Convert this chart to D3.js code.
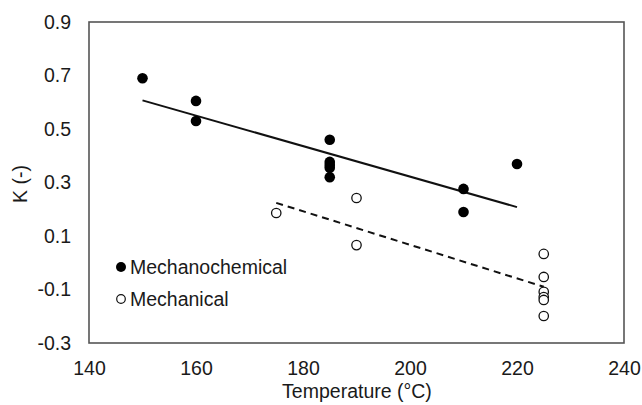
<!DOCTYPE html>
<html><head><meta charset="utf-8">
<script src="https://cdn.jsdelivr.net/npm/d3@7"></script>
<style>body{margin:0;background:#fff}svg{display:block}text{font-family:"Liberation Sans",Arial,sans-serif;fill:#1a1a1a}</style>
</head><body><svg id="c" width="642" height="405"></svg>
<script>
const xTicks = [140,160,180,200,220,240];
const yTicks = [-0.3,-0.1,0.1,0.3,0.5,0.7,0.9];
const mechanochemT = [150,160,160,185,185,185,185,185,210,210,220];
const mechanochemK = [0.69,0.605,0.53,0.46,0.377,0.365,0.355,0.32,0.276,0.19,0.369];
const mechanicalT = [175,190,190,225,225,225,225,225,225];
const mechanicalK = [0.186,0.242,0.066,0.033,-0.053,-0.109,-0.128,-0.139,-0.199];
const trendChemT = [150,220], trendChemK = [0.607,0.208];
const trendMechT = [175,225], trendMechK = [0.224,-0.09];
const legendLabels = ["Mechanochemical","Mechanical"];

const FS = 19.5;
const svg = d3.select("#c");
const L=89,R=624,T=22,B=343;
const x = d3.scaleLinear().domain([140,240]).range([L,R]);
const y = d3.scaleLinear().domain([-0.3,0.9]).range([B,T]);

svg.append("rect").attr("x",L).attr("y",T).attr("width",R-L).attr("height",B-T)
  .attr("fill","none").attr("stroke","#555").attr("stroke-width",1.6);

const xa = svg.append("g").attr("transform",`translate(0,${B})`)
  .call(d3.axisBottom(x).tickValues(xTicks).tickSize(0).tickPadding(18).tickFormat(d3.format("d")));
xa.select(".domain").remove();
xa.selectAll("text").attr("font-size",FS).attr("fill","#1a1a1a");
const yf = d3.format(".1f");
const ya = svg.append("g").attr("transform",`translate(${L},0)`)
  .call(d3.axisLeft(y).tickValues(yTicks).tickSize(0).tickPadding(18).tickFormat(d => yf(d).replace("\u2212","-")));
ya.select(".domain").remove();
ya.selectAll("text").attr("font-size",FS).attr("fill","#1a1a1a");

svg.append("text").attr("x",357).attr("y",398).attr("text-anchor","middle").attr("font-size",FS).text("Temperature (°C)");
svg.append("text").attr("transform","translate(27,184) rotate(-90)").attr("text-anchor","middle").attr("font-size",FS).text("K (-)");

const line = d3.line().x(d=>x(d[0])).y(d=>y(d[1]));
svg.append("path").attr("d",line(d3.zip(trendChemT,trendChemK))).attr("stroke","#111").attr("stroke-width",2).attr("fill","none");
svg.append("path").attr("d",line(d3.zip(trendMechT,trendMechK))).attr("stroke","#111").attr("stroke-width",2).attr("stroke-dasharray","7,5").attr("fill","none");

svg.selectAll("circle.chem").data(d3.zip(mechanochemT,mechanochemK)).join("circle").attr("class","chem")
  .attr("cx",d=>x(d[0])).attr("cy",d=>y(d[1])).attr("r",5.3).attr("fill","#000");
svg.selectAll("circle.mech").data(d3.zip(mechanicalT,mechanicalK)).join("circle").attr("class","mech")
  .attr("cx",d=>x(d[0])).attr("cy",d=>y(d[1])).attr("r",4.7).attr("fill","#fff").attr("stroke","#111").attr("stroke-width",1.3);

const lg = svg.append("g");
legendLabels.forEach((t,i)=>{
  const cy = 267 + i*32;
  lg.append("circle").attr("cx",121).attr("cy",cy).attr("r",i===0?5:4.3)
    .attr("fill",i===0?"#000":"#fff").attr("stroke","#111").attr("stroke-width",i===0?0:1.2);
  lg.append("text").attr("x",130).attr("y",cy+7).attr("font-size",FS).text(t);
});
</script></body></html>
